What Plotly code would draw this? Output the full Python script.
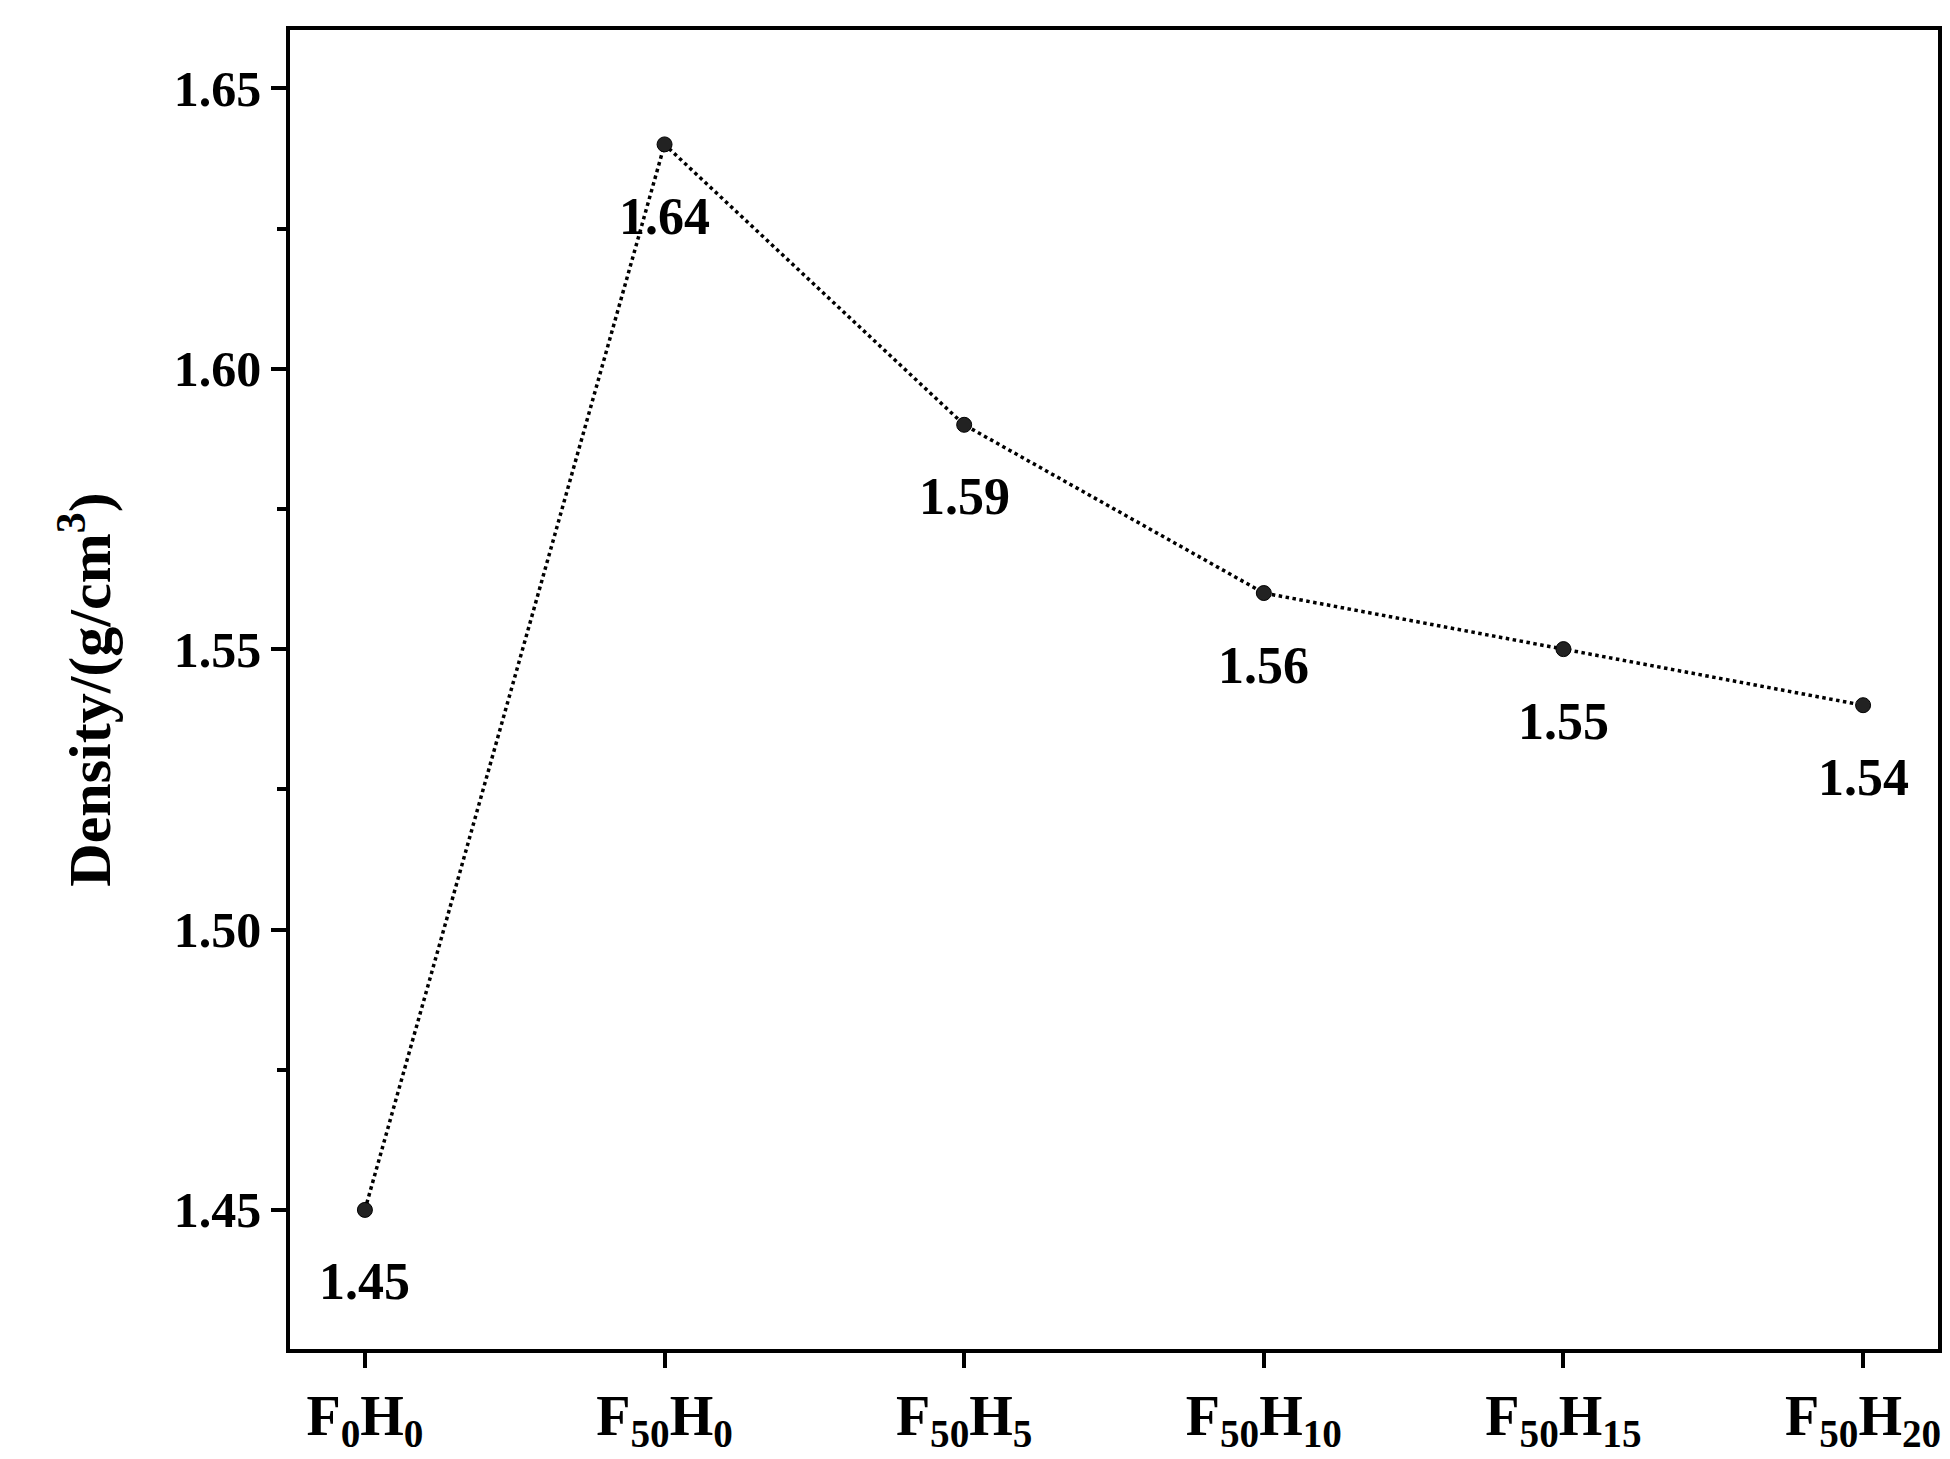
import plotly.graph_objects as go

samples = ["F<sub>0</sub>H<sub>0</sub>", "F<sub>50</sub>H<sub>0</sub>", "F<sub>50</sub>H<sub>5</sub>",
           "F<sub>50</sub>H<sub>10</sub>", "F<sub>50</sub>H<sub>15</sub>", "F<sub>50</sub>H<sub>20</sub>"]
density = [1.45, 1.64, 1.59, 1.56, 1.55, 1.54]
labels = ["1.45", "1.64", "1.59", "1.56", "1.55", "1.54"]

x = list(range(len(samples)))
font = "Liberation Serif, Times New Roman, serif"

fig = go.Figure()
fig.add_trace(go.Scatter(
    x=x, y=density, mode="lines+markers",
    line=dict(color="black", width=3.5, dash="dot"),
    marker=dict(size=15, color="#222", line=dict(color="black", width=1)),
))
for xi, yi, t in zip(x, density, labels):
    fig.add_annotation(x=xi, y=yi, text=f"<b>{t}</b>", showarrow=False,
                       yshift=-72, font=dict(family=font, size=52, color="black"))

axis_common = dict(showline=True, linecolor="black", linewidth=3.5, mirror=True,
                   ticks="outside", ticklen=15, tickwidth=3.5, tickcolor="black",
                   showgrid=False, zeroline=False)
fig.update_xaxes(range=[-0.25, 5.25], tickvals=x,
                 ticktext=[f"<b>{s}</b>" for s in samples],
                 tickfont=dict(family=font, size=56, color="black"), **axis_common)
fig.update_yaxes(range=[1.4252, 1.6604], tickvals=[1.45, 1.50, 1.55, 1.60, 1.65],
                 ticktext=["<b>1.45</b>", "<b>1.50</b>", "<b>1.55</b>", "<b>1.60</b>", "<b>1.65</b>"],
                 tickfont=dict(family=font, size=50, color="black"),
                 minor=dict(dtick=0.025, ticks="outside", ticklen=9, tickwidth=3.5, tickcolor="black"),
                 title=dict(text="<b>Density/(g/cm<sup>3</sup>)</b>",
                            font=dict(family=font, size=60, color="black"), standoff=45),
                 **axis_common)
fig.update_layout(width=1950, height=1459, showlegend=False,
                  plot_bgcolor="white", paper_bgcolor="white",
                  margin=dict(l=282, r=20, t=22, b=110))
fig.write_html("out.html")
